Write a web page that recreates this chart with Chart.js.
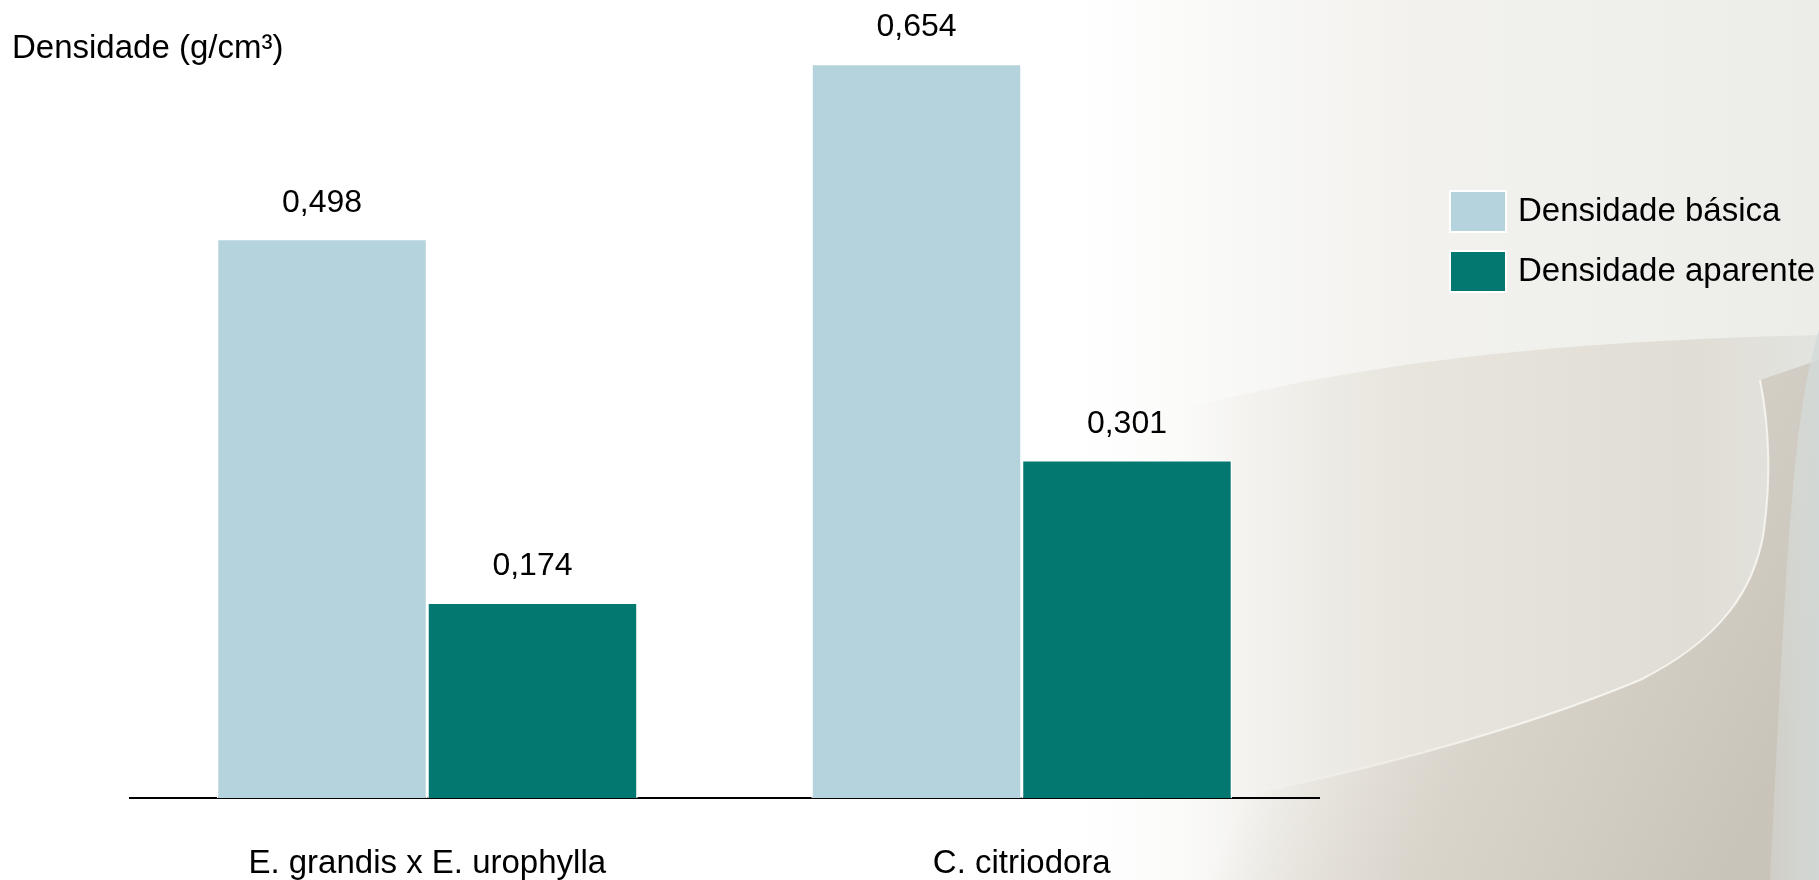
<!DOCTYPE html>
<html lang="pt-BR">
<head>
<meta charset="utf-8">
<title>Densidade da madeira</title>
<script src="https://cdn.jsdelivr.net/npm/chart.js@4.4.1/dist/chart.umd.min.js"></script>
<style>
  html, body { margin: 0; padding: 0; background: #fff; }
  #wrap { position: relative; width: 1819px; height: 880px; }
</style>
</head>
<body>
<div id="wrap"><canvas id="densChart"></canvas></div>
<script>
// Densidade básica e aparente por espécie
const categories = ['E. grandis x E. urophylla', 'C. citriodora'];
const seriesNames = ['Densidade básica', 'Densidade aparente'];
const basica = [0.498, 0.654];
const aparente = [0.174, 0.301];
const yAxisTitle = 'Densidade (g/cm³)';

const colors = ['#b4d3dd', '#037870'];
const FONT = '"Liberation Sans", Arial, Helvetica, sans-serif';

// edge of the curled sheet, bottom-left to top-right
function sheetEdge(ctx) {
  ctx.moveTo(1180, 806);
  ctx.bezierCurveTo(1340, 780, 1520, 730, 1640, 680);
  ctx.bezierCurveTo(1720, 640, 1755, 590, 1764, 530);
  ctx.bezierCurveTo(1772, 470, 1768, 420, 1760, 380);
}

// Paper-like backdrop: white on the left, soft curled sheets on the right
const backdrop = {
  id: 'backdrop',
  beforeDraw(chart) {
    const ctx = chart.ctx;
    const w = chart.width, h = chart.height;
    ctx.save();
    ctx.fillStyle = '#ffffff';
    ctx.fillRect(0, 0, w, h);

    let g = ctx.createLinearGradient(1080, 0, w, 0);
    g.addColorStop(0, 'rgba(238,237,233,0)');
    g.addColorStop(0.45, 'rgba(240,239,235,0.85)');
    g.addColorStop(1, 'rgba(236,237,233,1)');
    ctx.fillStyle = g;
    ctx.fillRect(1080, 0, w - 1080, h);

    // upper sheet
    ctx.beginPath();
    ctx.moveTo(1180, 410);
    ctx.bezierCurveTo(1340, 368, 1520, 342, w, 335);
    ctx.lineTo(w, h);
    ctx.lineTo(1180, h);
    ctx.closePath();
    g = ctx.createLinearGradient(1180, 0, w, 0);
    g.addColorStop(0, 'rgba(228,224,215,0)');
    g.addColorStop(0.35, 'rgba(228,224,215,0.7)');
    g.addColorStop(0.8, 'rgba(224,220,211,0.95)');
    g.addColorStop(1, 'rgba(226,228,224,1)');
    ctx.fillStyle = g;
    ctx.fill();

    // lower sheet under the bright edge
    ctx.beginPath();
    sheetEdge(ctx);
    ctx.lineTo(w, 360);
    ctx.lineTo(w, h);
    ctx.lineTo(1180, h);
    ctx.closePath();
    g = ctx.createLinearGradient(1300, 680, 1720, h);
    g.addColorStop(0, 'rgba(214,208,198,0)');
    g.addColorStop(0.4, 'rgba(212,206,196,0.7)');
    g.addColorStop(1, 'rgba(200,194,184,0.95)');
    ctx.fillStyle = g;
    ctx.fill();

    ctx.beginPath();
    sheetEdge(ctx);
    g = ctx.createLinearGradient(1180, 0, 1520, 0);
    g.addColorStop(0, 'rgba(250,248,244,0)');
    g.addColorStop(1, 'rgba(250,248,244,0.85)');
    ctx.strokeStyle = g;
    ctx.lineWidth = 2;
    ctx.stroke();

    // pale bluish sheet at the far right edge
    ctx.beginPath();
    ctx.moveTo(w, 330);
    ctx.bezierCurveTo(1790, 420, 1785, 600, 1770, 880);
    ctx.lineTo(w, h);
    ctx.closePath();
    g = ctx.createLinearGradient(1770, 0, w, 0);
    g.addColorStop(0, 'rgba(222,228,226,0.3)');
    g.addColorStop(1, 'rgba(210,218,216,0.85)');
    ctx.fillStyle = g;
    ctx.fill();
    ctx.restore();
  }
};

// Axis caption, value labels and the legend
const annotations = {
  id: 'annotations',
  afterDatasetsDraw(chart) {
    const ctx = chart.ctx;
    ctx.save();
    ctx.fillStyle = '#000';
    ctx.textBaseline = 'middle';

    ctx.font = '33px ' + FONT;
    ctx.textAlign = 'left';
    ctx.fillText(yAxisTitle, 12, 49);

    ctx.font = '32px ' + FONT;
    ctx.textAlign = 'center';
    chart.data.datasets.forEach((ds, i) => {
      chart.getDatasetMeta(i).data.forEach((bar, j) => {
        const txt = ds.data[j].toFixed(3).replace('.', ',');
        ctx.fillText(txt, bar.x, bar.y - 36);
      });
    });

    ctx.font = '33px ' + FONT;
    ctx.textAlign = 'left';
    chart.data.datasets.forEach((ds, i) => {
      const top = 191 + i * 60;
      ctx.fillStyle = ds.backgroundColor;
      ctx.fillRect(1450, top, 56, 41);
      ctx.strokeStyle = '#fff';
      ctx.lineWidth = 2;
      ctx.strokeRect(1450, top, 56, 41);
      ctx.fillStyle = '#000';
      ctx.fillText(ds.label, 1518, top + 21);
    });
    ctx.restore();
  }
};

new Chart(document.getElementById('densChart'), {
  type: 'bar',
  data: {
    labels: categories,
    datasets: [
      { label: seriesNames[0], data: basica, backgroundColor: colors[0] },
      { label: seriesNames[1], data: aparente, backgroundColor: colors[1] }
    ]
  },
  options: {
    responsive: true,
    maintainAspectRatio: false,
    animation: false,
    // the x axis reserves its tick padding twice, hence the negative bottom
    layout: { padding: { left: 130, right: 500, top: 12, bottom: -49 } },
    datasets: {
      bar: {
        categoryPercentage: 0.708,
        barPercentage: 1,
        borderColor: '#ffffff',
        borderWidth: 1.5,
        borderSkipped: 'start'
      }
    },
    scales: {
      x: {
        grid: { display: false, drawTicks: false },
        border: { display: true, color: '#000', width: 2 },
        ticks: {
          color: '#000',
          padding: 49,
          font: { family: FONT, size: 33, lineHeight: 1 }
        }
      },
      y: { display: false, min: 0, max: 0.7 }
    },
    plugins: {
      legend: { display: false },
      tooltip: { enabled: false }
    }
  },
  plugins: [backdrop, annotations]
});
</script>
</body>
</html>
